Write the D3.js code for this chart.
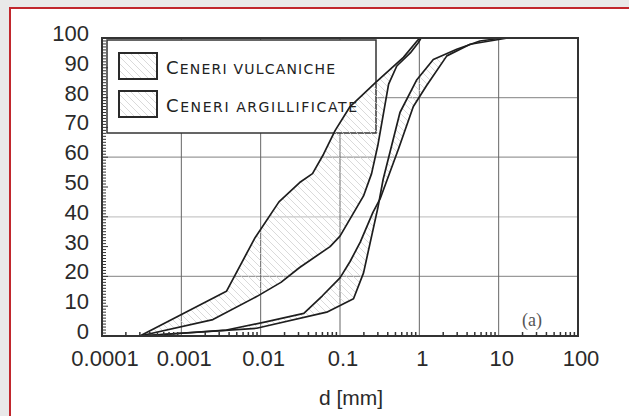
<!DOCTYPE html>
<html>
<head>
<meta charset="utf-8">
<script src="https://cdn.jsdelivr.net/npm/d3@7"></script>
<style>
  body { margin: 0; background: #e9e9e9; }
  svg { display: block; }
</style>
</head>
<body>
<div id="chart"></div>
<script>
// grain size curves, [d in mm, passing %]
var argillFine = [[0.0003,0],[0.0037,15],[0.0085,33],[0.017,45],[0.031,51.5],[0.045,54.5],[0.062,61],[0.087,69],[0.134,77],[0.28,85],[0.63,93.5],[0.97,99.5],[1.0,100]]
var argillCoarse = [[0.0003,0],[0.0025,5.5],[0.009,13.3],[0.018,18],[0.031,23],[0.075,30],[0.1,33.5],[0.198,47],[0.25,54.5],[0.3,64],[0.41,84.5],[0.52,90.6],[0.77,95],[0.97,98.4],[1.05,100]]
var vulcFine = [[0.0003,0],[0.0037,2],[0.012,4.8],[0.035,7.6],[0.06,13.5],[0.1,19.5],[0.134,25],[0.18,31.5],[0.26,41.5],[0.32,46],[0.55,63],[0.84,77],[1.23,84],[2.22,94],[4.37,97.9],[13,100]]
var vulcCoarse = [[0.0003,0],[0.0089,2.6],[0.068,8],[0.148,12.5],[0.198,21.2],[0.3,43],[0.35,52.6],[0.57,75],[0.93,86],[1.5,92.8],[2.96,96.2],[5.8,99],[11,100]]

var xTicks = [0.0001, 0.001, 0.01, 0.1, 1, 10, 100]
var xTickLabels = ["0.0001", "0.001", "0.01", "0.1", "1", "10", "100"]
var yTicks = [0, 10, 20, 30, 40, 50, 60, 70, 80, 90, 100]
var yGrid = [20, 40, 60, 80]
var legendLabels = [["C", "ENERI VULCANICHE"], ["C", "ENERI ARGILLIFICATE"]]

var width = 629, height = 416
var svg = d3.select("#chart").append("svg").attr("width", width).attr("height", height)

//panel with red border
svg.append("rect").attr("width", width).attr("height", height).attr("fill", "#e9e9e9")
svg.append("rect").attr("x", 10).attr("y", 8).attr("width", 660).attr("height", 440)
   .attr("fill", "#fff").attr("stroke", "#c1272d").attr("stroke-width", 2)

var x = d3.scaleLog().domain([0.0001, 100]).range([102, 578])
var y = d3.scaleLinear().domain([0, 100]).range([336, 38])

//hatch pattern
var defs = svg.append("defs")
defs.append("pattern").attr("id", "hatch").attr("patternUnits", "userSpaceOnUse")
    .attr("width", 7).attr("height", 7)
  .append("path").attr("d", "M-1,-1 L8,8 M-1,6 L1,8 M6,-1 L8,1")
    .attr("stroke", "#d0d0d0").attr("stroke-width", 0.8)

//grid
svg.append("g").selectAll("line").data(yGrid).enter().append("line")
   .attr("x1", x(0.0001)).attr("x2", x(100))
   .attr("y1", d => y(d)).attr("y2", d => y(d))
   .attr("stroke", d => d == 40 ? "#c8c8c8" : "#9a9a9a").attr("stroke-width", 1.2)
svg.append("g").selectAll("line").data(xTicks.slice(1, -1)).enter().append("line")
   .attr("x1", d => x(d)).attr("x2", d => x(d))
   .attr("y1", y(0)).attr("y2", y(100))
   .attr("stroke", "#666").attr("stroke-width", 1)

//legend box (covers grid)
svg.append("rect").attr("x", 107).attr("y", 40).attr("width", 269).attr("height", 93)
   .attr("fill", "#fff").attr("stroke", "#333").attr("stroke-width", 1.5)

var line = d3.line().x(d => x(d[0])).y(d => y(d[1]))

//hatched bands
function band(a, b) {
  return line(a.concat(b.slice().reverse())) + "Z"
}
svg.append("path").attr("d", band(argillFine, argillCoarse)).attr("fill", "url(#hatch)")
svg.append("path").attr("d", band(vulcFine, vulcCoarse)).attr("fill", "url(#hatch)")

//curves
svg.append("g").selectAll("path").data([argillFine, argillCoarse, vulcFine, vulcCoarse])
   .enter().append("path")
   .attr("d", line).attr("fill", "none")
   .attr("stroke", "#1e1e1e").attr("stroke-width", 1.7).attr("stroke-linejoin", "round")

//frame
svg.append("rect").attr("x", x(0.0001)).attr("y", y(100))
   .attr("width", x(100) - x(0.0001)).attr("height", y(0) - y(100))
   .attr("fill", "none").attr("stroke", "#333").attr("stroke-width", 2)

//minor ticks on x axis
var minor = []
xTicks.slice(0, -1).forEach(function(d) {
  for (var k = 2; k < 10; k++) minor.push(d * k)
})
svg.append("g").selectAll("line").data(minor).enter().append("line")
   .attr("x1", d => x(d)).attr("x2", d => x(d))
   .attr("y1", y(0)).attr("y2", y(0) - 4)
   .attr("stroke", "#333").attr("stroke-width", 1.5)

//ticks on y axis
svg.append("g").selectAll("line").data(d3.range(1, 100)).enter().append("line")
   .attr("x1", x(0.0001)).attr("x2", d => x(0.0001) + (d % 10 == 0 ? 6 : 4))
   .attr("y1", d => y(d)).attr("y2", d => y(d))
   .attr("stroke", "#333").attr("stroke-width", 1)

//tick labels
svg.append("g").selectAll("text").data(yTicks).enter().append("text")
   .attr("x", 89).attr("y", d => y(d) - 4.5)
   .attr("dominant-baseline", "central").attr("text-anchor", "end")
   .attr("font-family", "Liberation Sans, Arial, sans-serif").attr("font-size", "22px")
   .attr("fill", "#2a2a2a").text(d => d)

svg.append("g").selectAll("text").data(xTicks).enter().append("text")
   .attr("x", (d, i) => x(d) + 3).attr("y", 366)
   .attr("text-anchor", "middle")
   .attr("font-family", "Liberation Sans, Arial, sans-serif").attr("font-size", "22px")
   .attr("fill", "#2a2a2a").text((d, i) => xTickLabels[i])

svg.append("text").attr("x", 351).attr("y", 405).attr("text-anchor", "middle")
   .attr("font-family", "Liberation Sans, Arial, sans-serif").attr("font-size", "21px")
   .attr("fill", "#2a2a2a").text("d [mm]")

svg.append("text").attr("x", 532).attr("y", 326).attr("text-anchor", "middle")
   .attr("font-family", "Liberation Serif, serif").attr("font-size", "18px")
   .attr("fill", "#555").text("(a)")

//legend entries
var entry = svg.append("g").selectAll("g").data(legendLabels).enter().append("g")
   .attr("transform", (d, i) => "translate(0," + (i * 38) + ")")
entry.append("rect").attr("x", 119).attr("y", 53).attr("width", 38).attr("height", 26)
   .attr("fill", "url(#hatch)").attr("stroke", "#2a2a2a").attr("stroke-width", 2)
var lt = entry.append("text").attr("x", 166).attr("y", 74)
   .attr("font-family", "DejaVu Sans, sans-serif").attr("fill", "#222")
   .attr("textLength", (d, i) => i == 0 ? 169 : 191).attr("lengthAdjust", "spacing")
lt.append("tspan").attr("font-size", "18px").text(d => d[0])
lt.append("tspan").attr("font-size", "14px").text(d => d[1])
</script>
</body>
</html>
